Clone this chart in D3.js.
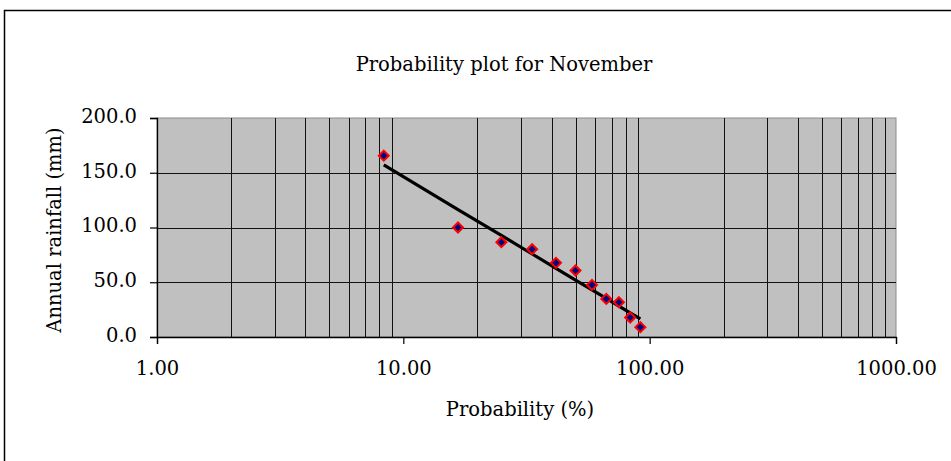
<!DOCTYPE html>
<html>
<head>
<meta charset="utf-8">
<script src="https://cdn.jsdelivr.net/npm/d3@7"></script>
<style>
  body { margin: 0; background: #fff; }
  svg { display: block; font-family: "DejaVu Serif", serif; }
</style>
</head>
<body>
<div class="chartWrapper"></div>
<script>
const chartWidth = 951, chartHeight = 461;

// plotting positions (%) and November rainfall (mm)
const probability = [8.33, 16.67, 25.00, 33.33, 41.67, 50.00, 58.33, 66.67, 75.00, 83.33, 91.67];
const rainfall = [165.6, 100.0, 86.6, 80.2, 67.7, 60.7, 47.6, 34.8, 31.8, 17.8, 9.0];
// fitted line values
const fitted = [157.1, 116.4, 92.7, 75.8, 62.7, 52.0, 43.0, 35.2, 28.3, 22.1, 16.5];

const xTicks = [1, 10, 100, 1000];
const yTicks = [0, 50, 100, 150, 200];

const plot = { left: 157, right: 896, top: 118, bottom: 337 };

const svg = d3.select(".chartWrapper").append("svg")
    .attr("width", chartWidth)
    .attr("height", chartHeight);

// outer chart frame, runs off the right and bottom edge
svg.append("rect")
  .attr("x", 4.5).attr("y", 10.5)
  .attr("width", 1000).attr("height", 1000)
  .attr("fill", "none")
  .attr("stroke", "#000")
  .attr("stroke-width", 1.5);

const x = d3.scaleLog().domain([1, 1000]).range([plot.left, plot.right]);
const y = d3.scaleLinear().domain([0, 200]).range([plot.bottom, plot.top]);

svg.append("rect")
  .attr("x", plot.left).attr("y", plot.top)
  .attr("width", plot.right - plot.left)
  .attr("height", plot.bottom - plot.top)
  .attr("fill", "#c0c0c0")
  .attr("stroke", "#8c8c8c")
  .attr("stroke-width", 1);

// vertical minor gridlines only (2..9 in each decade)
const minorTicks = x.ticks().filter(d => !xTicks.includes(d));
svg.append("g")
  .selectAll("line")
  .data(minorTicks)
  .join("line")
    .attr("x1", d => Math.round(x(d)) + 0.5)
    .attr("x2", d => Math.round(x(d)) + 0.5)
    .attr("y1", plot.top)
    .attr("y2", plot.bottom)
    .attr("stroke", "#111")
    .attr("stroke-width", 1);

svg.append("g")
  .selectAll("line")
  .data(yTicks.filter(d => d > 0 && d < 200))
  .join("line")
    .attr("x1", plot.left)
    .attr("x2", plot.right)
    .attr("y1", d => Math.round(y(d)) + 0.5)
    .attr("y2", d => Math.round(y(d)) + 0.5)
    .attr("stroke", "#111")
    .attr("stroke-width", 1);

const xAxis = svg.append("g")
  .attr("transform", `translate(0,${plot.bottom})`)
  .call(d3.axisBottom(x).tickValues(xTicks).tickFormat(d3.format(".2f")).tickSize(7).tickPadding(17));

const yAxis = svg.append("g")
  .attr("transform", `translate(${plot.left},0)`)
  .call(d3.axisLeft(y).tickValues(yTicks).tickFormat(d3.format(".1f")).tickSize(7).tickPadding(13));

[xAxis, yAxis].forEach(axis => {
  axis.attr("font-family", "DejaVu Serif, serif").attr("font-size", 19.5);
  axis.select(".domain").attr("stroke", "#000").attr("stroke-width", 1.3);
  axis.selectAll(".tick line").attr("stroke", "#000").attr("stroke-width", 1.2);
  axis.selectAll(".tick text").attr("fill", "#000");
});
yAxis.selectAll(".tick text").attr("dy", "0.22em");

// fitted line
const fitLine = d3.line()
  .x((d, i) => x(probability[i]))
  .y(d => y(d));

svg.append("path")
  .datum(fitted)
  .attr("d", fitLine)
  .attr("fill", "none")
  .attr("stroke", "#000")
  .attr("stroke-width", 3.2)
  .attr("stroke-linejoin", "round");

// diamond markers
const diamond = "M0,-5L5,0L0,5L-5,0Z";
svg.append("g")
  .selectAll("path")
  .data(rainfall)
  .join("path")
    .attr("transform", (d, i) => `translate(${x(probability[i])},${y(d)})`)
    .attr("d", diamond)
    .attr("fill", "#000080")
    .attr("stroke", "#ff0000")
    .attr("stroke-width", 2);

svg.append("text")
  .attr("x", 504).attr("y", 71)
  .attr("text-anchor", "middle")
  .attr("font-size", 19.5)
  .text("Probability plot for November");

svg.append("text")
  .attr("x", 520).attr("y", 416)
  .attr("text-anchor", "middle")
  .attr("font-size", 19.5)
  .text("Probability (%)");

svg.append("text")
  .attr("transform", "translate(61,230) rotate(-90)")
  .attr("text-anchor", "middle")
  .attr("font-size", 19.5)
  .text("Annual rainfall (mm)");
</script>
</body>
</html>
